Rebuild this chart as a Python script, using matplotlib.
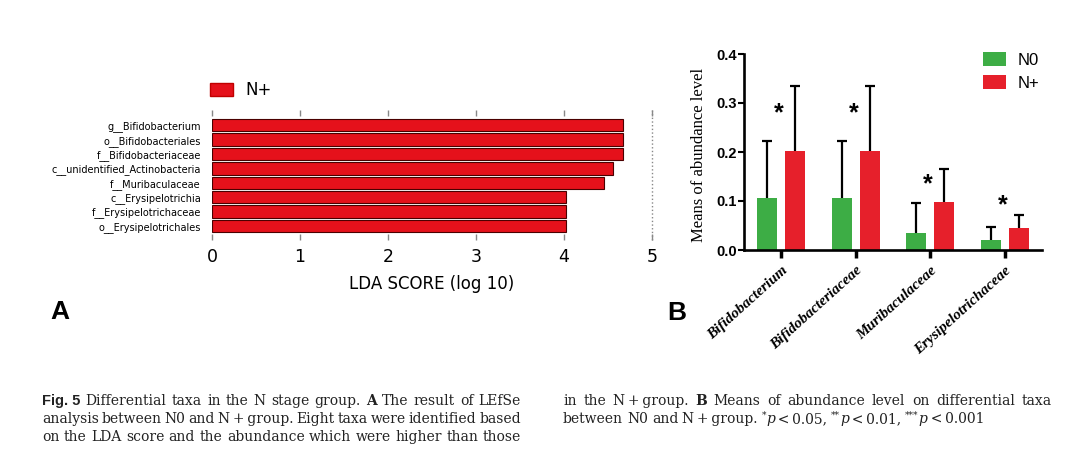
import numpy as np
import matplotlib
matplotlib.use('Agg')
import matplotlib.pyplot as plt
from matplotlib.patches import Patch

# ---- panel A: LEfSe LDA scores
lefse_taxa = ['g__Bifidobacterium', 'o__Bifidobacteriales', 'f__Bifidobacteriaceae',
              'c__unidentified_Actinobacteria', 'f__Muribaculaceae', 'c__Erysipelotrichia',
              'f__Erysipelotrichaceae', 'o__Erysipelotrichales']
lefse_lda = [4.67, 4.67, 4.67, 4.56, 4.45, 4.02, 4.02, 4.02]
lda_ticks = [0, 1, 2, 3, 4, 5]

# ---- panel B: means of abundance level
abund_taxa = ['Bifidobacterium', 'Bifidobacteriaceae', 'Muribaculaceae', 'Erysipelotrichaceae']
n0_mean = [0.107, 0.107, 0.035, 0.020]
n0_err = [0.116, 0.116, 0.061, 0.027]
npos_mean = [0.203, 0.203, 0.097, 0.045]
npos_err = [0.132, 0.132, 0.069, 0.026]
star_y = [0.278, 0.278, 0.135, 0.092]
abund_ticks = [0.0, 0.1, 0.2, 0.3, 0.4]

# ---- caption lines (token lists, style keys: n normal, b bold, i italic, s superscript, f fig label)
TS = '\u2009'
NPLUS = 'N' + TS + '+' + TS + 'group.'
cap_left = [
    [[('Fig. 5', 'f')], 'Differential', 'taxa', 'in', 'the', 'N', 'stage', 'group.', [('A', 'b')],
     'The', 'result', 'of', 'LEfSe'],
    ['analysis', 'between', 'N0', 'and', NPLUS, 'Eight', 'taxa', 'were', 'identified', 'based'],
    ['on', 'the', 'LDA', 'score', 'and', 'the', 'abundance', 'which', 'were', 'higher', 'than', 'those'],
]
cap_right = [
    ['in', 'the', NPLUS, [('B', 'b')], 'Means', 'of', 'abundance', 'level', 'on', 'differential', 'taxa'],
    ['between', 'N0', 'and', NPLUS,
     [('*', 's'), ('p', 'i'), (TS + '<' + TS + '0.05,', 'n')],
     [('**', 's'), ('p', 'i'), (TS + '<' + TS + '0.01,', 'n')],
     [('***', 's'), ('p', 'i'), (TS + '<' + TS + '0.001', 'n')]],
]

RED_A = '#E5111B'
RED_B = '#E6202B'
GREEN_B = '#3DAD45'

W, H = 1080, 470
fig = plt.figure(figsize=(W / 100, H / 100), dpi=100)


def fx(px):
    return px / W


def fy(py):
    return 1 - py / H


# ---------------- panel A
ax_a = fig.add_axes([fx(212), fy(240), fx(440), 130 / H])
ypos = np.arange(len(lefse_taxa))
ax_a.barh(ypos, lefse_lda, height=0.87, color=RED_A, edgecolor='#4a0000', linewidth=0.8, zorder=3)
ax_a.set_ylim(7.98, -1.06)
ax_a.set_xlim(0, 5)
ax_a.axvline(5, ls=':', color='#888888', lw=1, clip_on=False)
for s in ax_a.spines.values():
    s.set_visible(False)
ax_a.set_xticks(lda_ticks)
ax_a.tick_params(axis='x', top=True, bottom=True, direction='in', length=4, width=1,
                 color='#888888', labelsize=12.5, pad=6)
ax_a.set_yticks(ypos)
ax_a.set_yticklabels(lefse_taxa, fontsize=7)
ax_a.tick_params(axis='y', length=0, pad=8)
ax_a.set_xlabel('LDA SCORE (log 10)', fontsize=12, labelpad=6)
fig.legend(handles=[Patch(facecolor=RED_A, edgecolor='#c00000')], labels=['N+'],
           loc='upper left', bbox_to_anchor=(fx(210), fy(81)), frameon=False, fontsize=12,
           handlelength=1.4, handleheight=0.8, handletextpad=0.7, borderpad=0, borderaxespad=0)

# ---------------- panel B
ax_b = fig.add_axes([fx(744), fy(250), fx(298), 196 / H])
xg = np.arange(len(abund_taxa))
off, bw = 0.19, 0.27
ax_b.bar(xg - off, n0_mean, width=bw, color=GREEN_B, zorder=2)
ax_b.bar(xg + off, npos_mean, width=bw, color=RED_B, zorder=2)
for xs, m, e in ((xg - off, n0_mean, n0_err), (xg + off, npos_mean, npos_err)):
    eb = ax_b.errorbar(xs, m, yerr=[np.zeros(len(xg)), e], fmt='none', ecolor='black',
                       elinewidth=1.6, capsize=3.6, capthick=1.6, zorder=1)
    # only the upper cap is drawn
    eb[1][0].set_visible(False)
for i, sy in enumerate(star_y):
    ax_b.text(i - 0.03, sy, '*', ha='center', va='center', fontsize=18, fontweight='bold',
              family='Liberation Sans')
ax_b.set_xlim(-0.5, 3.5)
ax_b.set_ylim(0, 0.4)
for k in ('top', 'right'):
    ax_b.spines[k].set_visible(False)
for k in ('left', 'bottom'):
    ax_b.spines[k].set_linewidth(1.9)
ax_b.set_yticks(abund_ticks)
ax_b.set_yticklabels(['%.1f' % v for v in abund_ticks], family='Liberation Sans',
                     fontweight='bold', fontsize=10.5)
ax_b.tick_params(axis='y', length=4, width=1.5, pad=1)
ax_b.set_xticks(xg)
ax_b.set_xticklabels(abund_taxa, family='Liberation Serif', style='italic', fontweight='bold',
                     fontsize=11, rotation=42, ha='right', va='top', rotation_mode='anchor')
ax_b.tick_params(axis='x', length=6, width=2.5, pad=4)
ax_b.set_ylabel('Means of abundance level', family='Liberation Serif', fontsize=12)
ax_b.yaxis.set_label_coords(-0.125, 0.485)
fig.legend(handles=[Patch(facecolor=GREEN_B), Patch(facecolor=RED_B)], labels=['N0', 'N+'],
           loc='upper left', bbox_to_anchor=(fx(983), fy(52)), frameon=False,
           prop={'family': 'Liberation Sans', 'size': 12},
           handlelength=1.35, handleheight=0.9, handletextpad=0.75, labelspacing=0.45,
           borderpad=0, borderaxespad=0)

# panel letters
fig.text(fx(60), fy(312), 'A', ha='center', va='center', fontsize=19, fontweight='bold',
         family='Liberation Sans')
fig.text(fx(677), fy(313), 'B', ha='center', va='center', fontsize=19, fontweight='bold',
         family='Liberation Sans')

# ---------------- caption
CAP = 10
STYLES = {
    'n': dict(family='DejaVu Serif', size=CAP),
    'b': dict(family='DejaVu Serif', size=CAP, weight='bold'),
    'i': dict(family='DejaVu Serif', size=CAP, style='italic'),
    's': dict(family='DejaVu Serif', size=6.5),
    'f': dict(family=['Liberation Sans Narrow', 'Liberation Sans'], size=10.5, weight='bold'),
}
renderer = fig.canvas.get_renderer()


def place_line(tokens, x0, x1, y, justify=True):
    built = []
    for tok in tokens:
        if isinstance(tok, str):
            tok = [(tok, 'n')]
        pieces, w = [], 0
        for s, k in tok:
            dy = 5 if k == 's' else 0
            t = fig.text(0, 0, s, ha='left', va='baseline', color='#222222', **STYLES[k])
            pw = t.get_window_extent(renderer).width
            pieces.append((t, w, dy))
            w += pw
        built.append((pieces, w))
    total = sum(w for _, w in built)
    gap = (x1 - x0 - total) / (len(built) - 1) if justify else 4
    x = x0
    for pieces, w in built:
        for t, o, dy in pieces:
            t.set_position((fx(x + o), fy(y - dy)))
        x += w + gap


for j, line in enumerate(cap_left):
    place_line(line, 42, 521, 405 + 18 * j)
place_line(cap_right[0], 563, 1052, 405)
place_line(cap_right[1], 563, 1052, 423, justify=False)

fig.savefig('out.png', dpi=100)
